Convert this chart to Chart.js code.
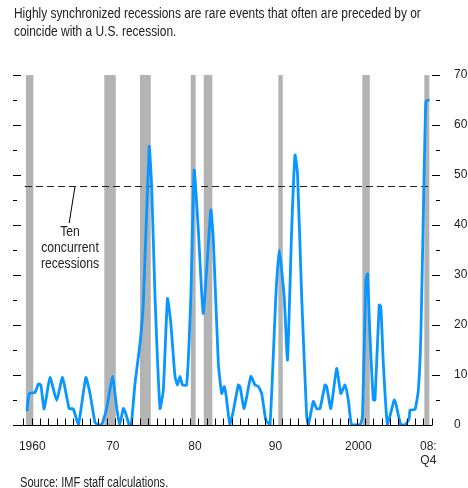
<!DOCTYPE html>
<html>
<head>
<meta charset="utf-8">
<script src="https://cdn.jsdelivr.net/npm/chart.js@4/dist/chart.umd.min.js"></script>
<style>
  body { margin: 0; background: #fff; }
  #wrap { position: relative; width: 468px; height: 488px; font-family: "Liberation Sans", Arial, sans-serif; color: #222; }
  #chart { position: absolute; left: 0; top: 0; }
  .note { position: absolute; font-size: 14px; line-height: 18px; white-space: nowrap; transform-origin: 0 0; }
</style>
</head>
<body>
<div id="wrap">
  <canvas id="chart" width="468" height="488"></canvas>
  <div class="note" id="title" style="left:14px; top:4px;">Highly synchronized recessions are rare events that often are preceded by or<br>coincide with a U.S. recession.</div>
  <div class="note" id="source" style="left:20px; top:473px;">Source: IMF staff calculations.</div>
</div>
<script>
// share of countries in recession (percent)
const years = [
  1960.45, 1960.7, 1961.4, 1961.8, 1962.1, 1962.5, 1963.2, 1964.0, 1964.7, 1965.5,
  1966.0, 1966.6, 1967.5, 1968.0, 1968.6, 1969.0, 1969.4, 1970.0, 1970.7, 1971.2,
  1971.55, 1972.0, 1972.25, 1972.7, 1972.95, 1973.4, 1974.0, 1974.4, 1975.1, 1975.4,
  1975.8, 1976.4, 1976.8, 1977.3, 1977.7, 1978.2, 1978.5, 1978.8, 1979.1, 1979.6,
  1980.1, 1980.5, 1981.0, 1981.6, 1982.5, 1982.8, 1983.4, 1983.8, 1984.1, 1984.3,
  1984.8, 1985.3, 1985.8, 1986.0, 1986.5, 1987.3, 1987.8, 1988.2, 1988.6, 1989.1,
  1989.6, 1990.3, 1990.7, 1991.3, 1991.7, 1992.2, 1992.6, 1992.9, 1993.4, 1994.0,
  1994.2, 1994.8, 1995.2, 1995.6, 1996.2, 1996.4, 1996.9, 1997.6, 1998.1, 1998.6,
  1999.0, 1999.4, 2000.4, 2000.7, 2001.1, 2001.3, 2001.6, 2002.0, 2002.2, 2002.7,
  2002.9, 2003.2, 2003.7, 2004.5, 2004.7, 2005.3, 2005.8, 2006.3, 2006.4, 2007.0,
  2007.4, 2007.7, 2008.0, 2008.3, 2008.6
];
const values = [
  3, 6.3, 6.5, 8.2, 8, 3.2, 9.5, 4.9, 9.5, 3.3,
  3.2, 0, 9.5, 6.3, 0.5, 0, 0, 3.3, 9.7, 3.5,
  0, 3.3, 2.5, 0, 0, 8.3, 16.3, 24.3, 55.7, 47.7,
  25.7, 3.3, 7, 25.3, 20.3, 9.7, 8, 9.7, 8, 8,
  25.7, 51, 39, 22.3, 43, 37, 12.3, 6.3, 7.7, 6.3,
  0, 3.7, 8, 7.7, 3.3, 9.7, 8, 7.7, 6.3, 1,
  0, 25.7, 35, 25.7, 13, 39, 54, 50.3, 25.7, 1.7,
  0, 4.7, 3.3, 3.3, 8, 7.7, 3.3, 11.3, 6.3, 8,
  5, 0, 0, 1.7, 29, 30.2, 17.7, 5, 5, 24,
  23.7, 12.3, 0, 5, 4.3, 0, 0, 1.3, 3, 3.1,
  7, 17.7, 42.3, 64.7, 65
];

// U.S. recessions (shaded)
const recStart = [1960.32, 1969.72, 1974.0, 1980.09, 1981.65, 1990.6, 2000.68, 2008.12];
const recEnd   = [1961.2, 1971.09, 1975.29, 1980.68, 1982.68, 1991.13, 2001.57, 2008.72];

const threshold = 47.7; // ten concurrent recessions
const labelYears = [1961.07, 1970.74, 1980.6, 1990.26, 2000.2, 2008.6];
const labelText = ["1960", "70", "80", "90", "2000", ["08:", "Q4"]];
const xMin = 1959.72, xMax = 2009.04;
const yMin = 0, yMax = 70;

const FONT = "'Liberation Sans', Arial, sans-serif";

// squeeze the html notes to the narrow width of the original
function squeeze(id, width) {
  const el = document.getElementById(id);
  el.style.transform = "scaleX(" + (width / el.offsetWidth) + ")";
}
squeeze("title", 407);
squeeze("source", 148);

const decor = {
  id: "decor",
  beforeDatasetsDraw(chart) {
    const { ctx, scales: { x, y } } = chart;
    ctx.save();
    ctx.fillStyle = "#b3b3b3";
    for (let i = 0; i < recStart.length; i++) {
      const x0 = x.getPixelForValue(recStart[i]);
      const x1 = x.getPixelForValue(recEnd[i]);
      const top = y.getPixelForValue(yMax);
      const bot = y.getPixelForValue(yMin);
      ctx.fillRect(x0, top, x1 - x0, bot - top);
    }
    ctx.restore();
  },
  afterDraw(chart) {
    const { ctx, scales: { x, y }, chartArea } = chart;
    ctx.save();
    ctx.strokeStyle = "#000";
    ctx.lineWidth = 1;
    const base = Math.round(y.getPixelForValue(0)) + 0.5;

    // x axis line and year ticks
    ctx.beginPath();
    ctx.moveTo(13, base);
    ctx.lineTo(chartArea.right, base);
    for (let yr = 1960; yr <= 2009; yr++) {
      const px = Math.round(x.getPixelForValue(yr)) + 0.5;
      ctx.moveTo(px, base);
      ctx.lineTo(px, base - 7);
    }
    ctx.stroke();

    // y ticks on both sides
    ctx.beginPath();
    for (let v = 5; v <= yMax; v += 5) {
      const py = Math.round(y.getPixelForValue(v)) + 0.5;
      const major = v % 10 === 0;
      ctx.moveTo(13, py);
      ctx.lineTo(major ? chartArea.left : 17, py);
      ctx.moveTo(major ? chartArea.right : chartArea.right + 4, py);
      ctx.lineTo(chartArea.right + 8, py);
    }
    ctx.stroke();

    // annotation
    ctx.beginPath();
    ctx.moveTo(x.getPixelForValue(1966.2), y.getPixelForValue(threshold));
    ctx.lineTo(x.getPixelForValue(1965.5), y.getPixelForValue(40.4));
    ctx.stroke();
    ctx.fillStyle = "#222";
    ctx.font = "14px " + FONT;
    ctx.textAlign = "center";
    ctx.textBaseline = "middle";
    const cx = x.getPixelForValue(1965.6);
    const lines = [["Ten", 38.66], ["concurrent", 35.34], ["recessions", 32.2]];
    for (const [txt, v] of lines) {
      ctx.save();
      ctx.translate(cx, y.getPixelForValue(v));
      ctx.scale(0.87, 1);
      ctx.fillText(txt, 0, 0);
      ctx.restore();
    }
    ctx.restore();
  }
};

new Chart(document.getElementById("chart"), {
  type: "line",
  data: {
    datasets: [
      {
        data: years.map((yr, i) => ({ x: yr, y: values[i] })),
        borderColor: "#0a96ff",
        borderWidth: 2.8,
        borderJoinStyle: "round",
        borderCapStyle: "round",
        pointRadius: 0,
        tension: 0.15,
        fill: false
      },
      {
        data: [{ x: 1960.2, y: threshold }, { x: xMax, y: threshold }],
        borderColor: "#222",
        borderWidth: 1,
        borderDash: [7, 4],
        pointRadius: 0,
        fill: false
      }
    ]
  },
  options: {
    responsive: false,
    animation: false,
    layout: { padding: { left: 21, top: 75, right: 0, bottom: 0 } },
    plugins: { legend: { display: false }, tooltip: { enabled: false } },
    scales: {
      x: {
        type: "linear",
        min: xMin,
        max: xMax,
        grid: { display: false },
        border: { display: false },
        afterBuildTicks(scale) { scale.ticks = labelYears.map(v => ({ value: v })); },
        afterFit(scale) { scale.height = 63; },
        ticks: {
          autoSkip: false,
          maxRotation: 0,
          padding: 6,
          color: "#222",
          font: { family: FONT, size: 12 },
          callback: (v) => labelText[labelYears.indexOf(v)]
        }
      },
      y: {
        position: "right",
        min: yMin,
        max: yMax,
        grid: { display: false },
        border: { display: false },
        afterFit(scale) { scale.width = 36; },
        ticks: {
          stepSize: 10,
          padding: 14,
          color: "#222",
          font: { family: FONT, size: 12 }
        }
      }
    }
  },
  plugins: [decor]
});
</script>
</body>
</html>
